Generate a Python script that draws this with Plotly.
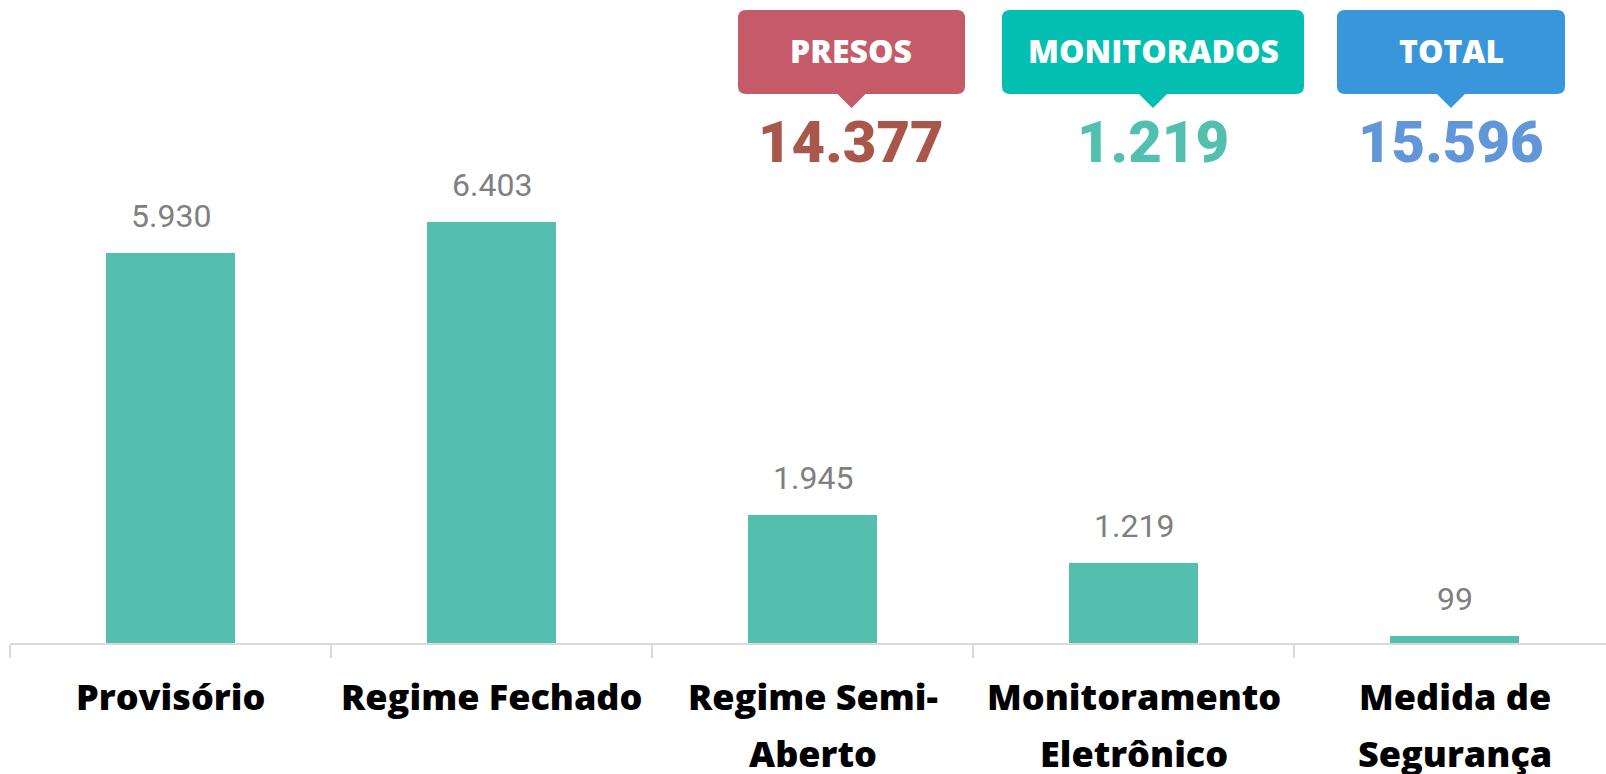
import plotly.graph_objects as go

categories = ["Provisório", "Regime Fechado", "Regime Semi-|Aberto",
              "Monitoramento|Eletrônico", "Medida de|Segurança"]
values = [5930, 6403, 1945, 1219, 99]
is_monitored = [False, False, False, True, False]

badge_titles = ["PRESOS", "MONITORADOS", "TOTAL"]

presos = sum(v for v, m in zip(values, is_monitored) if not m)
monitorados = sum(v for v, m in zip(values, is_monitored) if m)
total = presos + monitorados
badge_values = [presos, monitorados, total]

def fmt(n):
    return f"{n:,}".replace(",", ".")

W, H = 1606, 774
ML, MB = 10, 131
PW = W - ML
PH = H - MB
PX_PER_CAT = 321.0
Y_MAX = 643 / 0.0658

def px(x):
    return (x - ML) / PW

def py(y):
    return (PH - y) / PH

bar_color = "#54BFAE"
badge_colors = ["#C55A69", "#02BFB1", "#3996DB"]
number_colors = ["#A9574A", "#53BFAE", "#6196D8"]
badge_boxes = [(738, 965), (1002, 1304), (1337, 1565)]

fig = go.Figure()
fig.add_trace(go.Bar(
    x=categories, y=values, width=0.4,
    marker=dict(color=bar_color, line=dict(width=0)),
    hoverinfo="skip",
))

annotations = []
# value labels
for c, v in zip(categories, values):
    annotations.append(dict(
        x=c, y=v, xref="x", yref="y", text=fmt(v), showarrow=False,
        yanchor="middle", yshift=37,
        font=dict(family="Roboto, Arial", size=32, color="#808080"),
    ))
# category labels (two-line with wide spacing)
for c in categories:
    for j, line in enumerate(c.split("|")):
        annotations.append(dict(
            x=c, y=0, xref="x", yref="paper", text=line, showarrow=False,
            yanchor="middle", yshift=-(53 + 57 * j),
            font=dict(family="Open Sans, Arial", size=36, color="#000000", weight=800),
        ))

shapes = []
top, bot, tip, r, hw = 10, 94, 108, 8, 14
for k, ((x0, x1), title, val) in enumerate(zip(badge_boxes, badge_titles, badge_values)):
    cx = (x0 + x1) / 2
    pts = [
        ("M", x0 + r, top), ("L", x1 - r, top), ("Q", x1, top, x1, top + r),
        ("L", x1, bot - r), ("Q", x1, bot, x1 - r, bot),
        ("L", cx + hw, bot), ("L", cx, tip), ("L", cx - hw, bot),
        ("L", x0 + r, bot), ("Q", x0, bot, x0, bot - r),
        ("L", x0, top + r), ("Q", x0, top, x0 + r, top),
    ]
    path = ""
    for p in pts:
        cmd = p[0]
        coords = p[1:]
        segs = []
        for a in range(0, len(coords), 2):
            segs.append(f"{px(coords[a]):.5f},{py(coords[a+1]):.5f}")
        path += cmd + " " + " ".join(segs) + " "
    path += "Z"
    shapes.append(dict(type="path", path=path, xref="paper", yref="paper",
                       fillcolor=badge_colors[k], line=dict(width=0), layer="above"))
    annotations.append(dict(
        x=px(cx), y=py(50), xref="paper", yref="paper", text=title, showarrow=False,
        xanchor="center", yanchor="middle",
        font=dict(family="Open Sans, Arial", size=32, color="#FFFFFF", weight=800),
    ))
    annotations.append(dict(
        x=px(cx), y=py(142), xref="paper", yref="paper", text=fmt(val), showarrow=False,
        xanchor="center", yanchor="middle",
        font=dict(family="Roboto, Arial", size=58, color=number_colors[k], weight=900),
    ))

fig.update_layout(
    width=W, height=H, autosize=False,
    margin=dict(l=ML, r=0, t=0, b=MB, pad=0),
    paper_bgcolor="#FFFFFF", plot_bgcolor="#FFFFFF",
    showlegend=False,
    bargap=0,
    xaxis=dict(
        type="category",
        range=[-0.5, -0.5 + PW / PX_PER_CAT],
        showticklabels=False,
        tickson="boundaries", ticks="outside", ticklen=13, tickwidth=2,
        tickcolor="#D9D9D9", showline=True, linecolor="#D9D9D9", linewidth=2,
        showgrid=False, zeroline=False, fixedrange=True,
    ),
    yaxis=dict(range=[0, Y_MAX], visible=False, showgrid=False, zeroline=False,
               fixedrange=True),
    annotations=annotations,
    shapes=shapes,
)

fig.write_html("out.html", config={"displayModeBar": False},
               post_script="document.body.style.margin='0';document.body.style.overflow='hidden';")
